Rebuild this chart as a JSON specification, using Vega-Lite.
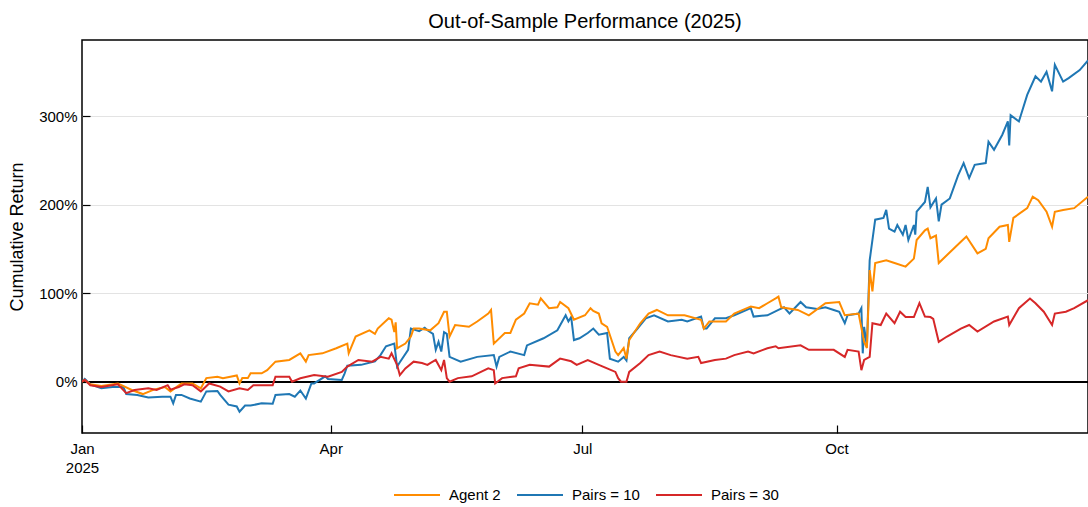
{
"$schema": "https://vega.github.io/schema/vega-lite/v6.json",
"width": 1006, "height": 393,
"autosize": {"type": "none"},
"padding": {"left": 82, "top": 40, "right": 0, "bottom": 74},
"background": "white",
"config": {"font": "Liberation Sans", "view": {"stroke": "black", "strokeWidth": 1.5}},
"title": {"text": "Out-of-Sample Performance (2025)", "fontSize": 20, "fontWeight": "normal", "color": "black", "offset": 8},
"data": {"values": [
{"date":"2025-01-01","series":"Pairs = 10","value":0},
{"date":"2025-01-02","series":"Pairs = 10","value":3},
{"date":"2025-01-04","series":"Pairs = 10","value":-3},
{"date":"2025-01-08","series":"Pairs = 10","value":-7.5},
{"date":"2025-01-12","series":"Pairs = 10","value":-6},
{"date":"2025-01-16","series":"Pairs = 10","value":-6},
{"date":"2025-01-17","series":"Pairs = 10","value":-14},
{"date":"2025-01-21","series":"Pairs = 10","value":-15},
{"date":"2025-01-25","series":"Pairs = 10","value":-18},
{"date":"2025-01-30","series":"Pairs = 10","value":-17},
{"date":"2025-02-02","series":"Pairs = 10","value":-17},
{"date":"2025-02-03","series":"Pairs = 10","value":-24.5},
{"date":"2025-02-04","series":"Pairs = 10","value":-15},
{"date":"2025-02-06","series":"Pairs = 10","value":-15},
{"date":"2025-02-09","series":"Pairs = 10","value":-19},
{"date":"2025-02-13","series":"Pairs = 10","value":-22.6},
{"date":"2025-02-15","series":"Pairs = 10","value":-11},
{"date":"2025-02-19","series":"Pairs = 10","value":-10.5},
{"date":"2025-02-20","series":"Pairs = 10","value":-15},
{"date":"2025-02-23","series":"Pairs = 10","value":-26},
{"date":"2025-02-26","series":"Pairs = 10","value":-28},
{"date":"2025-02-27","series":"Pairs = 10","value":-34},
{"date":"2025-03-01","series":"Pairs = 10","value":-27},
{"date":"2025-03-03","series":"Pairs = 10","value":-27},
{"date":"2025-03-07","series":"Pairs = 10","value":-24.5},
{"date":"2025-03-11","series":"Pairs = 10","value":-25},
{"date":"2025-03-12","series":"Pairs = 10","value":-15},
{"date":"2025-03-17","series":"Pairs = 10","value":-14},
{"date":"2025-03-19","series":"Pairs = 10","value":-17},
{"date":"2025-03-21","series":"Pairs = 10","value":-10},
{"date":"2025-03-23","series":"Pairs = 10","value":-19},
{"date":"2025-03-25","series":"Pairs = 10","value":-2},
{"date":"2025-03-26","series":"Pairs = 10","value":-2},
{"date":"2025-03-30","series":"Pairs = 10","value":6},
{"date":"2025-03-31","series":"Pairs = 10","value":3},
{"date":"2025-04-05","series":"Pairs = 10","value":2},
{"date":"2025-04-06","series":"Pairs = 10","value":9},
{"date":"2025-04-07","series":"Pairs = 10","value":18},
{"date":"2025-04-12","series":"Pairs = 10","value":19},
{"date":"2025-04-17","series":"Pairs = 10","value":23},
{"date":"2025-04-19","series":"Pairs = 10","value":30},
{"date":"2025-04-21","series":"Pairs = 10","value":40},
{"date":"2025-04-24","series":"Pairs = 10","value":43},
{"date":"2025-04-25","series":"Pairs = 10","value":17},
{"date":"2025-04-26","series":"Pairs = 10","value":22},
{"date":"2025-04-29","series":"Pairs = 10","value":36},
{"date":"2025-04-30","series":"Pairs = 10","value":60},
{"date":"2025-05-03","series":"Pairs = 10","value":57},
{"date":"2025-05-05","series":"Pairs = 10","value":61},
{"date":"2025-05-06","series":"Pairs = 10","value":58},
{"date":"2025-05-08","series":"Pairs = 10","value":54},
{"date":"2025-05-09","series":"Pairs = 10","value":36},
{"date":"2025-05-10","series":"Pairs = 10","value":45},
{"date":"2025-05-11","series":"Pairs = 10","value":34},
{"date":"2025-05-12","series":"Pairs = 10","value":56},
{"date":"2025-05-13","series":"Pairs = 10","value":54},
{"date":"2025-05-14","series":"Pairs = 10","value":28},
{"date":"2025-05-18","series":"Pairs = 10","value":22.6},
{"date":"2025-05-24","series":"Pairs = 10","value":28},
{"date":"2025-05-30","series":"Pairs = 10","value":30},
{"date":"2025-05-31","series":"Pairs = 10","value":17},
{"date":"2025-06-01","series":"Pairs = 10","value":28},
{"date":"2025-06-05","series":"Pairs = 10","value":34},
{"date":"2025-06-10","series":"Pairs = 10","value":30},
{"date":"2025-06-11","series":"Pairs = 10","value":41},
{"date":"2025-06-17","series":"Pairs = 10","value":49},
{"date":"2025-06-22","series":"Pairs = 10","value":58},
{"date":"2025-06-25","series":"Pairs = 10","value":75},
{"date":"2025-06-26","series":"Pairs = 10","value":68},
{"date":"2025-06-27","series":"Pairs = 10","value":73},
{"date":"2025-06-28","series":"Pairs = 10","value":47},
{"date":"2025-06-30","series":"Pairs = 10","value":49},
{"date":"2025-07-03","series":"Pairs = 10","value":55},
{"date":"2025-07-05","series":"Pairs = 10","value":60},
{"date":"2025-07-07","series":"Pairs = 10","value":53},
{"date":"2025-07-10","series":"Pairs = 10","value":55},
{"date":"2025-07-11","series":"Pairs = 10","value":26},
{"date":"2025-07-14","series":"Pairs = 10","value":22.6},
{"date":"2025-07-16","series":"Pairs = 10","value":28},
{"date":"2025-07-17","series":"Pairs = 10","value":24},
{"date":"2025-07-18","series":"Pairs = 10","value":49},
{"date":"2025-07-21","series":"Pairs = 10","value":60},
{"date":"2025-07-24","series":"Pairs = 10","value":71.6},
{"date":"2025-07-27","series":"Pairs = 10","value":75},
{"date":"2025-08-01","series":"Pairs = 10","value":68},
{"date":"2025-08-06","series":"Pairs = 10","value":70},
{"date":"2025-08-08","series":"Pairs = 10","value":68},
{"date":"2025-08-13","series":"Pairs = 10","value":73.5},
{"date":"2025-08-14","series":"Pairs = 10","value":60},
{"date":"2025-08-15","series":"Pairs = 10","value":60},
{"date":"2025-08-18","series":"Pairs = 10","value":71.6},
{"date":"2025-08-22","series":"Pairs = 10","value":71.6},
{"date":"2025-08-25","series":"Pairs = 10","value":75},
{"date":"2025-08-31","series":"Pairs = 10","value":83},
{"date":"2025-09-01","series":"Pairs = 10","value":73.5},
{"date":"2025-09-06","series":"Pairs = 10","value":75},
{"date":"2025-09-10","series":"Pairs = 10","value":81},
{"date":"2025-09-12","series":"Pairs = 10","value":84},
{"date":"2025-09-14","series":"Pairs = 10","value":77},
{"date":"2025-09-18","series":"Pairs = 10","value":90},
{"date":"2025-09-20","series":"Pairs = 10","value":84},
{"date":"2025-09-24","series":"Pairs = 10","value":82},
{"date":"2025-09-27","series":"Pairs = 10","value":84},
{"date":"2025-09-30","series":"Pairs = 10","value":81},
{"date":"2025-10-02","series":"Pairs = 10","value":79},
{"date":"2025-10-04","series":"Pairs = 10","value":66},
{"date":"2025-10-05","series":"Pairs = 10","value":75},
{"date":"2025-10-09","series":"Pairs = 10","value":77},
{"date":"2025-10-10","series":"Pairs = 10","value":83},
{"date":"2025-10-10T12:00:00Z","series":"Pairs = 10","value":32},
{"date":"2025-10-11","series":"Pairs = 10","value":62},
{"date":"2025-10-12","series":"Pairs = 10","value":39.5},
{"date":"2025-10-13","series":"Pairs = 10","value":137},
{"date":"2025-10-15","series":"Pairs = 10","value":183},
{"date":"2025-10-18","series":"Pairs = 10","value":185},
{"date":"2025-10-19","series":"Pairs = 10","value":194},
{"date":"2025-10-20","series":"Pairs = 10","value":173},
{"date":"2025-10-22","series":"Pairs = 10","value":169.5},
{"date":"2025-10-23","series":"Pairs = 10","value":177},
{"date":"2025-10-25","series":"Pairs = 10","value":166},
{"date":"2025-10-26","series":"Pairs = 10","value":177},
{"date":"2025-10-27","series":"Pairs = 10","value":160},
{"date":"2025-10-29","series":"Pairs = 10","value":177},
{"date":"2025-10-29T12:00:00Z","series":"Pairs = 10","value":166},
{"date":"2025-10-30","series":"Pairs = 10","value":192},
{"date":"2025-11-02","series":"Pairs = 10","value":203},
{"date":"2025-11-03","series":"Pairs = 10","value":220},
{"date":"2025-11-04","series":"Pairs = 10","value":197},
{"date":"2025-11-06","series":"Pairs = 10","value":207},
{"date":"2025-11-07","series":"Pairs = 10","value":181},
{"date":"2025-11-08","series":"Pairs = 10","value":200},
{"date":"2025-11-11","series":"Pairs = 10","value":207},
{"date":"2025-11-14","series":"Pairs = 10","value":233},
{"date":"2025-11-16","series":"Pairs = 10","value":247},
{"date":"2025-11-18","series":"Pairs = 10","value":230},
{"date":"2025-11-20","series":"Pairs = 10","value":245},
{"date":"2025-11-24","series":"Pairs = 10","value":247},
{"date":"2025-11-25","series":"Pairs = 10","value":271},
{"date":"2025-11-27","series":"Pairs = 10","value":262},
{"date":"2025-11-30","series":"Pairs = 10","value":279},
{"date":"2025-12-02","series":"Pairs = 10","value":294},
{"date":"2025-12-02T12:00:00Z","series":"Pairs = 10","value":267},
{"date":"2025-12-03","series":"Pairs = 10","value":301},
{"date":"2025-12-06","series":"Pairs = 10","value":294},
{"date":"2025-12-09","series":"Pairs = 10","value":324},
{"date":"2025-12-12","series":"Pairs = 10","value":345},
{"date":"2025-12-14","series":"Pairs = 10","value":339},
{"date":"2025-12-16","series":"Pairs = 10","value":350},
{"date":"2025-12-18","series":"Pairs = 10","value":328},
{"date":"2025-12-19","series":"Pairs = 10","value":358},
{"date":"2025-12-22","series":"Pairs = 10","value":339},
{"date":"2025-12-24","series":"Pairs = 10","value":343},
{"date":"2025-12-28","series":"Pairs = 10","value":352},
{"date":"2025-12-31","series":"Pairs = 10","value":363},
{"date":"2025-01-01","series":"Agent 2","value":0},
{"date":"2025-01-02","series":"Agent 2","value":2},
{"date":"2025-01-04","series":"Agent 2","value":-3},
{"date":"2025-01-08","series":"Agent 2","value":-5},
{"date":"2025-01-14","series":"Agent 2","value":-2},
{"date":"2025-01-19","series":"Agent 2","value":-9.4},
{"date":"2025-01-23","series":"Agent 2","value":-14},
{"date":"2025-01-27","series":"Agent 2","value":-9},
{"date":"2025-01-31","series":"Agent 2","value":-6},
{"date":"2025-02-02","series":"Agent 2","value":-11},
{"date":"2025-02-06","series":"Agent 2","value":-2},
{"date":"2025-02-10","series":"Agent 2","value":-2},
{"date":"2025-02-13","series":"Agent 2","value":-7.5},
{"date":"2025-02-15","series":"Agent 2","value":4},
{"date":"2025-02-19","series":"Agent 2","value":5.6},
{"date":"2025-02-21","series":"Agent 2","value":4},
{"date":"2025-02-26","series":"Agent 2","value":7},
{"date":"2025-02-27","series":"Agent 2","value":-2},
{"date":"2025-02-28","series":"Agent 2","value":4},
{"date":"2025-03-02","series":"Agent 2","value":4},
{"date":"2025-03-03","series":"Agent 2","value":9.5},
{"date":"2025-03-07","series":"Agent 2","value":9.5},
{"date":"2025-03-09","series":"Agent 2","value":13},
{"date":"2025-03-12","series":"Agent 2","value":22.6},
{"date":"2025-03-17","series":"Agent 2","value":24.5},
{"date":"2025-03-21","series":"Agent 2","value":32},
{"date":"2025-03-23","series":"Agent 2","value":22.6},
{"date":"2025-03-24","series":"Agent 2","value":30},
{"date":"2025-03-29","series":"Agent 2","value":32},
{"date":"2025-04-03","series":"Agent 2","value":37.7},
{"date":"2025-04-07","series":"Agent 2","value":43},
{"date":"2025-04-07T12:00:00Z","series":"Agent 2","value":32},
{"date":"2025-04-10","series":"Agent 2","value":51},
{"date":"2025-04-15","series":"Agent 2","value":58},
{"date":"2025-04-17","series":"Agent 2","value":54},
{"date":"2025-04-18","series":"Agent 2","value":60},
{"date":"2025-04-22","series":"Agent 2","value":71.6},
{"date":"2025-04-23","series":"Agent 2","value":70},
{"date":"2025-04-24","series":"Agent 2","value":56},
{"date":"2025-04-24T12:00:00Z","series":"Agent 2","value":67},
{"date":"2025-04-25","series":"Agent 2","value":37.7},
{"date":"2025-04-28","series":"Agent 2","value":43},
{"date":"2025-04-30","series":"Agent 2","value":51},
{"date":"2025-05-01","series":"Agent 2","value":60},
{"date":"2025-05-03","series":"Agent 2","value":60},
{"date":"2025-05-07","series":"Agent 2","value":58},
{"date":"2025-05-10","series":"Agent 2","value":66},
{"date":"2025-05-12","series":"Agent 2","value":79},
{"date":"2025-05-13","series":"Agent 2","value":79},
{"date":"2025-05-14","series":"Agent 2","value":51},
{"date":"2025-05-16","series":"Agent 2","value":64},
{"date":"2025-05-21","series":"Agent 2","value":62},
{"date":"2025-05-24","series":"Agent 2","value":68},
{"date":"2025-05-28","series":"Agent 2","value":77},
{"date":"2025-05-29","series":"Agent 2","value":81},
{"date":"2025-05-30","series":"Agent 2","value":43},
{"date":"2025-06-03","series":"Agent 2","value":55},
{"date":"2025-06-05","series":"Agent 2","value":55},
{"date":"2025-06-07","series":"Agent 2","value":70},
{"date":"2025-06-10","series":"Agent 2","value":77},
{"date":"2025-06-12","series":"Agent 2","value":88.6},
{"date":"2025-06-15","series":"Agent 2","value":87},
{"date":"2025-06-16","series":"Agent 2","value":94},
{"date":"2025-06-19","series":"Agent 2","value":83},
{"date":"2025-06-22","series":"Agent 2","value":84},
{"date":"2025-06-23","series":"Agent 2","value":90},
{"date":"2025-06-26","series":"Agent 2","value":83},
{"date":"2025-06-28","series":"Agent 2","value":70},
{"date":"2025-07-02","series":"Agent 2","value":75},
{"date":"2025-07-04","series":"Agent 2","value":83},
{"date":"2025-07-05","series":"Agent 2","value":80},
{"date":"2025-07-07","series":"Agent 2","value":77},
{"date":"2025-07-08","series":"Agent 2","value":66},
{"date":"2025-07-10","series":"Agent 2","value":62},
{"date":"2025-07-13","series":"Agent 2","value":34},
{"date":"2025-07-14","series":"Agent 2","value":30},
{"date":"2025-07-16","series":"Agent 2","value":38},
{"date":"2025-07-17","series":"Agent 2","value":26},
{"date":"2025-07-18","series":"Agent 2","value":47},
{"date":"2025-07-22","series":"Agent 2","value":66},
{"date":"2025-07-25","series":"Agent 2","value":77},
{"date":"2025-07-28","series":"Agent 2","value":81},
{"date":"2025-08-01","series":"Agent 2","value":75},
{"date":"2025-08-07","series":"Agent 2","value":75},
{"date":"2025-08-13","series":"Agent 2","value":70},
{"date":"2025-08-14","series":"Agent 2","value":60},
{"date":"2025-08-16","series":"Agent 2","value":68},
{"date":"2025-08-22","series":"Agent 2","value":68},
{"date":"2025-08-25","series":"Agent 2","value":77},
{"date":"2025-08-31","series":"Agent 2","value":85},
{"date":"2025-09-03","series":"Agent 2","value":83},
{"date":"2025-09-06","series":"Agent 2","value":88.6},
{"date":"2025-09-09","series":"Agent 2","value":94},
{"date":"2025-09-10","series":"Agent 2","value":96},
{"date":"2025-09-11","series":"Agent 2","value":84},
{"date":"2025-09-17","series":"Agent 2","value":81},
{"date":"2025-09-21","series":"Agent 2","value":75},
{"date":"2025-09-27","series":"Agent 2","value":88.6},
{"date":"2025-10-02","series":"Agent 2","value":90},
{"date":"2025-10-04","series":"Agent 2","value":75},
{"date":"2025-10-09","series":"Agent 2","value":77},
{"date":"2025-10-11","series":"Agent 2","value":45},
{"date":"2025-10-12","series":"Agent 2","value":38},
{"date":"2025-10-13","series":"Agent 2","value":126},
{"date":"2025-10-14","series":"Agent 2","value":102},
{"date":"2025-10-15","series":"Agent 2","value":134},
{"date":"2025-10-19","series":"Agent 2","value":137},
{"date":"2025-10-22","series":"Agent 2","value":134},
{"date":"2025-10-26","series":"Agent 2","value":130},
{"date":"2025-10-29","series":"Agent 2","value":139},
{"date":"2025-10-30","series":"Agent 2","value":160},
{"date":"2025-11-02","series":"Agent 2","value":171},
{"date":"2025-11-03","series":"Agent 2","value":173},
{"date":"2025-11-04","series":"Agent 2","value":162},
{"date":"2025-11-06","series":"Agent 2","value":165},
{"date":"2025-11-07","series":"Agent 2","value":134},
{"date":"2025-11-10","series":"Agent 2","value":143},
{"date":"2025-11-15","series":"Agent 2","value":158},
{"date":"2025-11-17","series":"Agent 2","value":164},
{"date":"2025-11-21","series":"Agent 2","value":145},
{"date":"2025-11-24","series":"Agent 2","value":150},
{"date":"2025-11-25","series":"Agent 2","value":162},
{"date":"2025-11-29","series":"Agent 2","value":175},
{"date":"2025-12-02","series":"Agent 2","value":177},
{"date":"2025-12-02T12:00:00Z","series":"Agent 2","value":158},
{"date":"2025-12-04","series":"Agent 2","value":185},
{"date":"2025-12-09","series":"Agent 2","value":196},
{"date":"2025-12-11","series":"Agent 2","value":209},
{"date":"2025-12-13","series":"Agent 2","value":205},
{"date":"2025-12-16","series":"Agent 2","value":192},
{"date":"2025-12-18","series":"Agent 2","value":175},
{"date":"2025-12-19","series":"Agent 2","value":192},
{"date":"2025-12-22","series":"Agent 2","value":194},
{"date":"2025-12-26","series":"Agent 2","value":196},
{"date":"2025-12-31","series":"Agent 2","value":209},
{"date":"2025-01-01","series":"Pairs = 30","value":0},
{"date":"2025-01-02","series":"Pairs = 30","value":2},
{"date":"2025-01-04","series":"Pairs = 30","value":-4},
{"date":"2025-01-08","series":"Pairs = 30","value":-6},
{"date":"2025-01-14","series":"Pairs = 30","value":-3},
{"date":"2025-01-17","series":"Pairs = 30","value":-13},
{"date":"2025-01-20","series":"Pairs = 30","value":-9.4},
{"date":"2025-01-25","series":"Pairs = 30","value":-7.5},
{"date":"2025-01-28","series":"Pairs = 30","value":-9.4},
{"date":"2025-02-01","series":"Pairs = 30","value":-4},
{"date":"2025-02-02","series":"Pairs = 30","value":-9},
{"date":"2025-02-05","series":"Pairs = 30","value":-6},
{"date":"2025-02-07","series":"Pairs = 30","value":-3},
{"date":"2025-02-10","series":"Pairs = 30","value":-4},
{"date":"2025-02-13","series":"Pairs = 30","value":-11},
{"date":"2025-02-16","series":"Pairs = 30","value":-2},
{"date":"2025-02-20","series":"Pairs = 30","value":-5.6},
{"date":"2025-02-23","series":"Pairs = 30","value":-11},
{"date":"2025-02-27","series":"Pairs = 30","value":-7.5},
{"date":"2025-03-02","series":"Pairs = 30","value":-9.4},
{"date":"2025-03-04","series":"Pairs = 30","value":-4},
{"date":"2025-03-07","series":"Pairs = 30","value":-4},
{"date":"2025-03-11","series":"Pairs = 30","value":-4},
{"date":"2025-03-12","series":"Pairs = 30","value":5.6},
{"date":"2025-03-17","series":"Pairs = 30","value":5.6},
{"date":"2025-03-18","series":"Pairs = 30","value":0},
{"date":"2025-03-21","series":"Pairs = 30","value":3.8},
{"date":"2025-03-26","series":"Pairs = 30","value":7.5},
{"date":"2025-03-31","series":"Pairs = 30","value":5.6},
{"date":"2025-04-05","series":"Pairs = 30","value":11},
{"date":"2025-04-07","series":"Pairs = 30","value":17},
{"date":"2025-04-11","series":"Pairs = 30","value":24.5},
{"date":"2025-04-16","series":"Pairs = 30","value":22.6},
{"date":"2025-04-19","series":"Pairs = 30","value":28},
{"date":"2025-04-22","series":"Pairs = 30","value":26},
{"date":"2025-04-23","series":"Pairs = 30","value":32},
{"date":"2025-04-25","series":"Pairs = 30","value":19},
{"date":"2025-04-26","series":"Pairs = 30","value":7.5},
{"date":"2025-04-28","series":"Pairs = 30","value":15},
{"date":"2025-05-01","series":"Pairs = 30","value":22.6},
{"date":"2025-05-04","series":"Pairs = 30","value":21},
{"date":"2025-05-06","series":"Pairs = 30","value":19},
{"date":"2025-05-07","series":"Pairs = 30","value":21},
{"date":"2025-05-09","series":"Pairs = 30","value":24.5},
{"date":"2025-05-11","series":"Pairs = 30","value":13},
{"date":"2025-05-12","series":"Pairs = 30","value":24.5},
{"date":"2025-05-13","series":"Pairs = 30","value":4},
{"date":"2025-05-14","series":"Pairs = 30","value":0},
{"date":"2025-05-17","series":"Pairs = 30","value":4},
{"date":"2025-05-22","series":"Pairs = 30","value":6},
{"date":"2025-05-28","series":"Pairs = 30","value":15},
{"date":"2025-05-30","series":"Pairs = 30","value":13},
{"date":"2025-05-30T12:00:00Z","series":"Pairs = 30","value":-2},
{"date":"2025-06-02","series":"Pairs = 30","value":4},
{"date":"2025-06-07","series":"Pairs = 30","value":6},
{"date":"2025-06-08","series":"Pairs = 30","value":15},
{"date":"2025-06-12","series":"Pairs = 30","value":19},
{"date":"2025-06-19","series":"Pairs = 30","value":17},
{"date":"2025-06-23","series":"Pairs = 30","value":26},
{"date":"2025-06-27","series":"Pairs = 30","value":23},
{"date":"2025-06-29","series":"Pairs = 30","value":19},
{"date":"2025-07-03","series":"Pairs = 30","value":24.5},
{"date":"2025-07-07","series":"Pairs = 30","value":19},
{"date":"2025-07-10","series":"Pairs = 30","value":15},
{"date":"2025-07-13","series":"Pairs = 30","value":11},
{"date":"2025-07-14","series":"Pairs = 30","value":4},
{"date":"2025-07-15","series":"Pairs = 30","value":0},
{"date":"2025-07-17","series":"Pairs = 30","value":0},
{"date":"2025-07-18","series":"Pairs = 30","value":11},
{"date":"2025-07-22","series":"Pairs = 30","value":21},
{"date":"2025-07-25","series":"Pairs = 30","value":30},
{"date":"2025-07-29","series":"Pairs = 30","value":34},
{"date":"2025-08-02","series":"Pairs = 30","value":30},
{"date":"2025-08-08","series":"Pairs = 30","value":26},
{"date":"2025-08-12","series":"Pairs = 30","value":28},
{"date":"2025-08-13","series":"Pairs = 30","value":21},
{"date":"2025-08-18","series":"Pairs = 30","value":24.5},
{"date":"2025-08-22","series":"Pairs = 30","value":26},
{"date":"2025-08-25","series":"Pairs = 30","value":30},
{"date":"2025-08-30","series":"Pairs = 30","value":34},
{"date":"2025-09-01","series":"Pairs = 30","value":32},
{"date":"2025-09-06","series":"Pairs = 30","value":37.7},
{"date":"2025-09-09","series":"Pairs = 30","value":40},
{"date":"2025-09-10","series":"Pairs = 30","value":37.7},
{"date":"2025-09-18","series":"Pairs = 30","value":41},
{"date":"2025-09-21","series":"Pairs = 30","value":36},
{"date":"2025-09-30","series":"Pairs = 30","value":36},
{"date":"2025-10-04","series":"Pairs = 30","value":28},
{"date":"2025-10-05","series":"Pairs = 30","value":36},
{"date":"2025-10-09","series":"Pairs = 30","value":34},
{"date":"2025-10-10","series":"Pairs = 30","value":13},
{"date":"2025-10-11","series":"Pairs = 30","value":24.5},
{"date":"2025-10-13","series":"Pairs = 30","value":28},
{"date":"2025-10-14","series":"Pairs = 30","value":66},
{"date":"2025-10-17","series":"Pairs = 30","value":64},
{"date":"2025-10-19","series":"Pairs = 30","value":77},
{"date":"2025-10-22","series":"Pairs = 30","value":66},
{"date":"2025-10-24","series":"Pairs = 30","value":79},
{"date":"2025-10-26","series":"Pairs = 30","value":73},
{"date":"2025-10-29","series":"Pairs = 30","value":73},
{"date":"2025-10-31","series":"Pairs = 30","value":88.6},
{"date":"2025-11-02","series":"Pairs = 30","value":73.5},
{"date":"2025-11-04","series":"Pairs = 30","value":73},
{"date":"2025-11-05","series":"Pairs = 30","value":71},
{"date":"2025-11-07","series":"Pairs = 30","value":45},
{"date":"2025-11-10","series":"Pairs = 30","value":51},
{"date":"2025-11-15","series":"Pairs = 30","value":60},
{"date":"2025-11-18","series":"Pairs = 30","value":64},
{"date":"2025-11-21","series":"Pairs = 30","value":56.5},
{"date":"2025-11-27","series":"Pairs = 30","value":68},
{"date":"2025-12-02","series":"Pairs = 30","value":73.5},
{"date":"2025-12-02T12:00:00Z","series":"Pairs = 30","value":64},
{"date":"2025-12-06","series":"Pairs = 30","value":83},
{"date":"2025-12-10","series":"Pairs = 30","value":94},
{"date":"2025-12-12","series":"Pairs = 30","value":88.6},
{"date":"2025-12-15","series":"Pairs = 30","value":79},
{"date":"2025-12-18","series":"Pairs = 30","value":64},
{"date":"2025-12-19","series":"Pairs = 30","value":77},
{"date":"2025-12-23","series":"Pairs = 30","value":79},
{"date":"2025-12-26","series":"Pairs = 30","value":83},
{"date":"2025-12-31","series":"Pairs = 30","value":92}
]},
"layer": [
{"mark": {"type": "rule", "color": "black", "strokeWidth": 1.5},
 "encoding": {"y": {"datum": 0, "type": "quantitative"}}},
{"mark": {"type": "line", "strokeWidth": 2, "clip": true},
 "encoding": {
  "x": {"field": "date", "type": "temporal",
        "scale": {"type": "utc", "domain": [{"year": 2025, "month": 1, "date": 1, "utc": true}, {"year": 2025, "month": 12, "date": 31, "utc": true}]},
        "axis": {"title": null, "values": [{"year": 2025, "month": 1, "date": 1, "utc": true}, {"year": 2025, "month": 4, "date": 1, "utc": true}, {"year": 2025, "month": 7, "date": 1, "utc": true}, {"year": 2025, "month": 10, "date": 1, "utc": true}],
                 "labelExpr": "utcFormat(datum.value, '%b') == 'Jan' ? ['Jan', '2025'] : utcFormat(datum.value, '%b')",
                 "labelFontSize": 15, "labelColor": "black", "labelLineHeight": 19, "labelFlush": false,
                 "tickSize": -8, "tickColor": "black", "tickWidth": 1.2, "labelPadding": 16, "domain": false, "grid": false}},
  "y": {"field": "value", "type": "quantitative",
        "scale": {"domain": [-58, 386], "nice": false, "zero": false},
        "axis": {"title": "Cumulative Return", "titleFontSize": 18, "titleFontWeight": "normal", "titleColor": "black", "titlePadding": 12,
                 "values": [0, 100, 200, 300], "labelExpr": "datum.value + '%'",
                 "labelFontSize": 15, "labelColor": "black", "tickSize": -8, "tickColor": "black", "tickWidth": 1.2, "labelPadding": 13,
                 "domain": false, "grid": true, "gridColor": "#e3e3e3", "gridWidth": 1}},
  "color": {"field": "series", "type": "nominal",
            "scale": {"domain": ["Agent 2", "Pairs = 10", "Pairs = 30"], "range": ["#ff8c00", "#1f77b4", "#d62728"]},
            "legend": {"title": null, "orient": "none", "legendX": 311, "legendY": 431, "direction": "horizontal",
                       "symbolType": "stroke", "symbolSize": 2116, "symbolStrokeWidth": 2,
                       "labelFontSize": 15, "labelColor": "black", "labelOffset": 8, "columnPadding": 12}}
 }}
]
}
